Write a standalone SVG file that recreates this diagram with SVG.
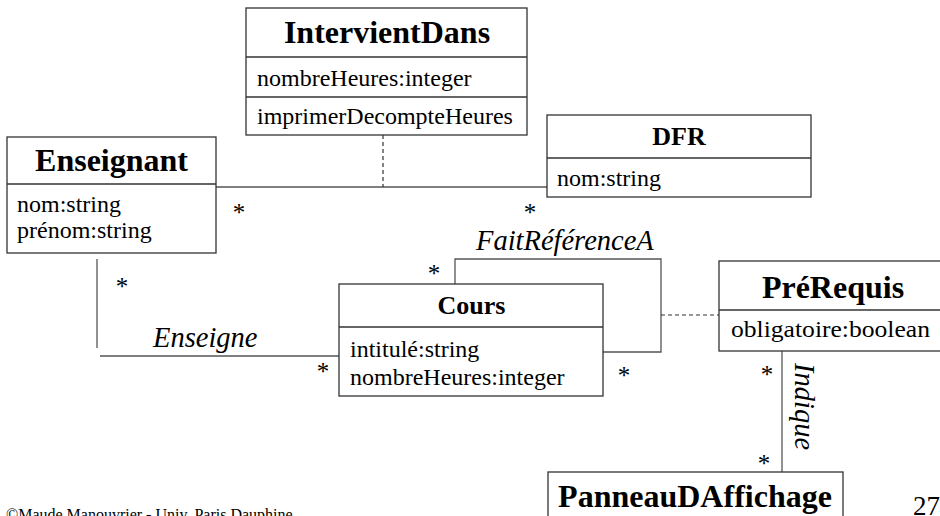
<svg xmlns="http://www.w3.org/2000/svg" width="940" height="516" viewBox="0 0 940 516">
<style>
text{font-family:'Liberation Serif','Times New Roman',Times,Tinos,'DejaVu Serif','Noto Serif',serif;fill:#000}
.box{fill:#fff;stroke:#333;stroke-width:1.3}
.div{stroke:#333;stroke-width:1.3}
.t{font-weight:bold;font-size:32px;text-anchor:middle}
.ts{font-weight:bold;font-size:26px;text-anchor:middle}
.a{font-size:24px}
.l{fill:none;stroke:#555;stroke-width:1.3}
.d{fill:none;stroke:#333;stroke-width:1.2;stroke-dasharray:4,3}
.m{font-size:25px;text-anchor:middle}
.r{font-style:italic;font-size:28.5px}
</style>
<rect width="940" height="516" fill="#fff"/>
<g id="connectors">
<line class="l" x1="216" y1="187" x2="547" y2="187"/>
<line class="d" x1="383" y1="135" x2="383" y2="187"/>
<line class="l" x1="97" y1="259" x2="97" y2="348"/>
<line class="l" x1="100" y1="356" x2="339" y2="356"/>
<polyline class="l" points="603,352 661,352 661,259 455,259 455,284"/>
<line class="d" x1="661" y1="315" x2="719" y2="315"/>
<line class="l" x1="782" y1="351" x2="782" y2="472"/>
<text class="m" x="239" y="221">*</text>
<text class="m" x="530" y="221">*</text>
<text class="m" x="122" y="295">*</text>
<text class="m" x="434" y="282">*</text>
<text class="m" x="323" y="380">*</text>
<text class="m" x="624" y="384">*</text>
<text class="m" x="767" y="383">*</text>
<text class="m" x="764" y="472">*</text>
<text class="r" x="153" y="347">Enseigne</text>
<text class="r" x="476" y="250">FaitRéférenceA</text>
<text class="r" transform="translate(795,363) rotate(90)">Indique</text>
</g>
<g id="IntervientDans">
<rect class="box" x="246" y="8" width="281" height="127"/>
<line class="div" x1="246" y1="57" x2="527" y2="57"/>
<line class="div" x1="246" y1="97" x2="527" y2="97"/>
<text class="t" x="387" y="43">IntervientDans</text>
<text class="a" x="257" y="86">nombreHeures:integer</text>
<text class="a" x="257" y="124">imprimerDecompteHeures</text>
</g>
<g id="Enseignant">
<rect class="box" x="7" y="137" width="209" height="116"/>
<line class="div" x1="7" y1="184" x2="216" y2="184"/>
<text class="t" x="111.5" y="171">Enseignant</text>
<text class="a" x="17" y="212">nom:string</text>
<text class="a" x="17" y="238">prénom:string</text>
</g>
<g id="DFR">
<rect class="box" x="547" y="115" width="264" height="82"/>
<line class="div" x1="547" y1="158" x2="811" y2="158"/>
<text class="ts" x="679" y="145">DFR</text>
<text class="a" x="557" y="186">nom:string</text>
</g>
<g id="Cours">
<rect class="box" x="339" y="284" width="264" height="112"/>
<line class="div" x1="339" y1="327" x2="603" y2="327"/>
<text class="ts" x="471.5" y="314">Cours</text>
<text class="a" x="350" y="357">intitulé:string</text>
<text class="a" x="350" y="385">nombreHeures:integer</text>
</g>
<g id="PreRequis">
<rect class="box" x="719" y="261" width="230" height="90"/>
<line class="div" x1="719" y1="310" x2="941" y2="310"/>
<text class="t" x="833" y="298">PréRequis</text>
<text class="a" x="731" y="337" textLength="199" lengthAdjust="spacingAndGlyphs">obligatoire:boolean</text>
</g>
<g id="PanneauDAffichage">
<rect class="box" x="548" y="472" width="295" height="60"/>
<text class="t" x="695" y="507">PanneauDAffichage</text>
</g>
<text x="913" y="515" font-size="27">27</text>
<text x="6" y="520" font-size="16">©Maude Manouvrier - Univ. Paris Dauphine</text>
</svg>
